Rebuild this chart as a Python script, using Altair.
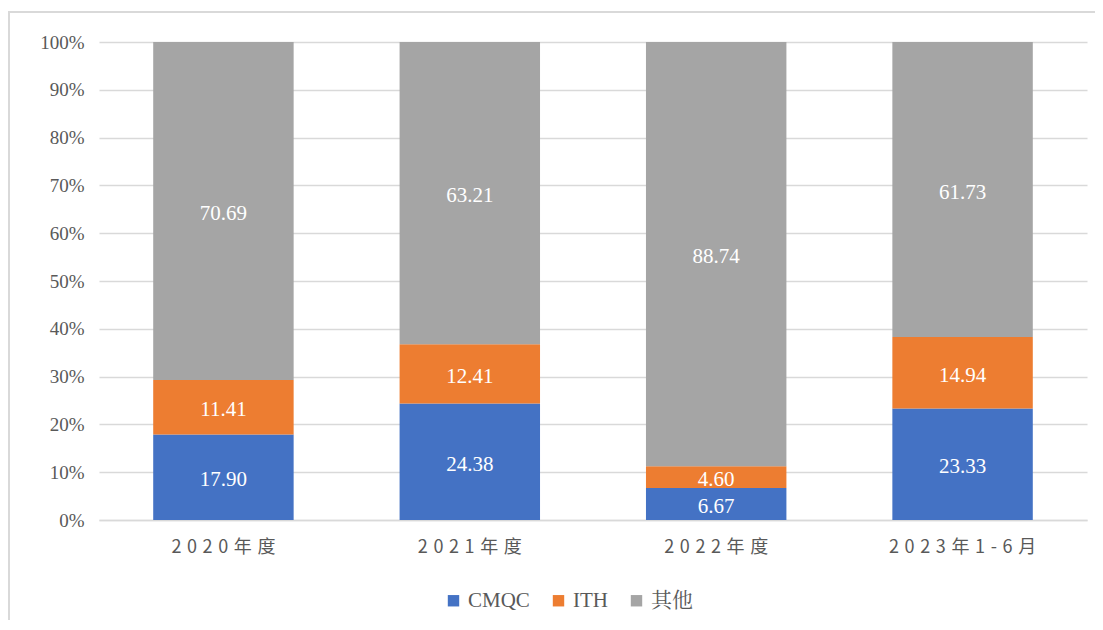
import altair as alt
import pandas as pd

categories = ["2020年度", "2021年度", "2022年度", "2023年1-6月"]
series = ["CMQC", "ITH", "其他"]
cmqc = [17.90, 24.38, 6.67, 23.33]
ith = [11.41, 12.41, 4.60, 14.94]
other = [70.69, 63.21, 88.74, 61.73]
colors = ["#4472C4", "#ED7D31", "#A5A5A5"]
y_ticks = [0, 10, 20, 30, 40, 50, 60, 70, 80, 90, 100]

SERIF = "'Liberation Serif', 'Times New Roman', 'Tinos', 'DejaVu Serif', serif"

rows = []
for i, c in enumerate(categories):
    for k, (s, vals) in enumerate(zip(series, [cmqc, ith, other])):
        rows.append({"cat": c, "series": s, "value": vals[i], "ord": k})
df = pd.DataFrame(rows)

base = alt.Chart(df)

x_enc = alt.X(
    "cat:N",
    sort=categories,
    title=None,
    scale=alt.Scale(paddingInner=0.43, paddingOuter=0.22),
    axis=alt.Axis(
        labelAngle=0,
        labelFont="Noto Sans CJK SC",
        labelFontSize=18,
        labelColor="#595959",
        labelPadding=18,
        ticks=False,
        domain=True,
        domainColor="#D9D9D9",
        domainWidth=1.5,
        grid=False,
        labelExpr="join(split(datum.label, ''), '\u2005\u200a')",
    ),
)

bars = base.mark_bar().encode(
    x=x_enc,
    y=alt.Y(
        "value:Q",
        stack="zero",
        title=None,
        scale=alt.Scale(domain=[0, 100], nice=False),
        axis=alt.Axis(
            values=y_ticks,
            labelExpr="datum.value + '%'",
            labelFont=SERIF,
            labelFontSize=19,
            labelColor="#595959",
            labelPadding=15,
            ticks=False,
            domain=False,
            grid=True,
            gridColor="#D9D9D9",
            gridWidth=1.5,
        ),
    ),
    color=alt.Color(
        "series:N",
        sort=series,
        scale=alt.Scale(domain=series, range=colors),
        legend=alt.Legend(
            title=None,
            orient="none",
            direction="horizontal",
            legendX=344,
            legendY=548,
            symbolType="square",
            symbolSize=130,
            symbolStrokeWidth=0,
            labelFont="'Liberation Serif', 'Times New Roman', 'Noto Serif CJK SC', 'Noto Sans CJK SC', serif",
            labelFontSize=21,
            labelColor="#595959",
            columnPadding=18,
            labelOffset=4,
        ),
    ),
    order=alt.Order("ord:Q", sort="ascending"),
)

labels = base.transform_stack(
    stack="value", groupby=["cat"], as_=["v0", "v1"], sort=[alt.SortField("ord", "ascending")]
).transform_calculate(
    mid="(datum.v0 + datum.v1) / 2",
    txt="format(datum.value, '.2f')",
).mark_text(
    font=SERIF, fontSize=21, color="white", baseline="middle", dy=3
).encode(
    x=alt.X("cat:N", sort=categories),
    y=alt.Y("mid:Q"),
    text="txt:N",
)

frame_top = base.mark_rule(color="#D9D9D9", strokeWidth=2).encode(
    x=alt.value(-91), x2=alt.value(1100), y=alt.value(-30)
)
frame_left = base.mark_rule(color="#D9D9D9", strokeWidth=2).encode(
    x=alt.value(-90), y=alt.value(-30), y2=alt.value(700)
)

chart = alt.layer(bars, labels, frame_top, frame_left).properties(
    width=988,
    height=478,
    autosize=alt.AutoSizeParams(type="none"),
    padding={"left": 91, "top": 34, "right": 8, "bottom": 100},
).configure_view(stroke=None)

chart.save("out.html", embed_options={"renderer": "svg", "actions": False})
